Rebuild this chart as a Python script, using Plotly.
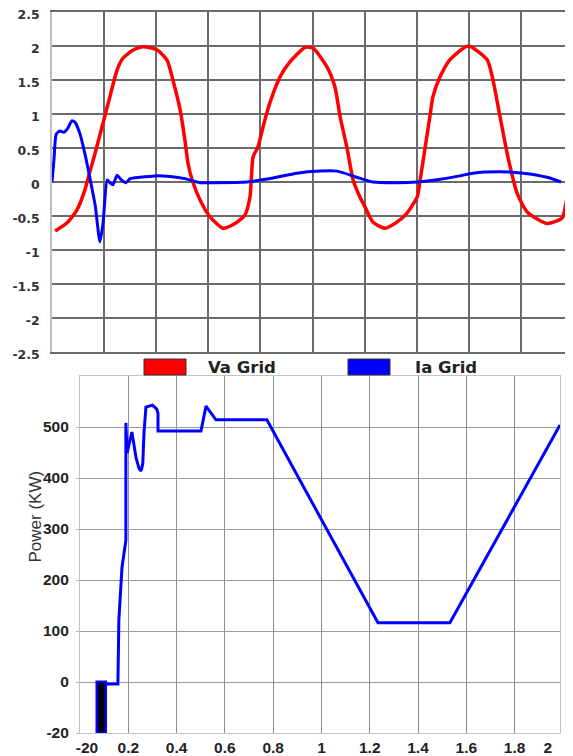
import plotly.graph_objects as go

# ---------------- data: top chart (time in grid divisions) ----------------
va_t = [0.06, 0.29, 0.48, 0.63, 0.69, 0.83, 0.98, 1.11, 1.25, 1.36,
        1.56, 1.75, 2.02, 2.21, 2.32, 2.46, 2.55, 2.61, 2.69, 2.84,
        3.03, 3.28, 3.47, 3.70, 3.80, 3.86, 3.95, 4.05, 4.18, 4.38,
        4.57, 4.86, 5.01, 5.28, 5.43, 5.53, 5.66, 5.78, 5.91, 6.01,
        6.16, 6.39, 6.62, 6.81, 7.01, 7.06, 7.26, 7.31, 7.45, 7.64,
        7.99, 8.35, 8.45, 8.60, 8.75, 8.93, 9.12, 9.50, 9.79, 9.89,
        9.98]
va_grid = [-0.72, -0.60, -0.41, -0.12, 0.05, 0.43, 0.87, 1.25, 1.65, 1.82,
           1.94, 1.99, 1.94, 1.79, 1.50, 1.06, 0.62, 0.28, 0.03, -0.26,
           -0.51, -0.68, -0.63, -0.49, -0.22, 0.37, 0.51, 0.81, 1.16, 1.55,
           1.77, 1.98, 1.97, 1.69, 1.40, 0.96, 0.51, 0.03, -0.22, -0.37,
           -0.59, -0.68, -0.59, -0.46, -0.22, 0.00, 1.00, 1.25, 1.55, 1.80,
           2.00, 1.80, 1.55, 0.96, 0.37, -0.17, -0.44, -0.61, -0.53, -0.22,
           0.00]

ia_t = [0.00, 0.04, 0.08, 0.15, 0.23, 0.31, 0.38, 0.44, 0.54, 0.63,
        0.73, 0.83, 0.92, 0.98, 1.06, 1.11, 1.17, 1.25, 1.32, 1.42,
        1.50, 1.69, 1.98, 2.27, 2.55, 2.84, 3.03, 3.74, 4.24, 4.70,
        5.14, 5.47, 5.85, 6.16, 6.62, 7.01, 7.45, 7.83, 8.08, 8.60,
        9.04, 9.50, 9.77]
ia_grid = [0.00, 0.35, 0.70, 0.75, 0.73, 0.80, 0.90, 0.88, 0.70, 0.42,
           0.05, -0.35, -0.88, -0.60, 0.03, -0.01, -0.04, 0.10, 0.04, -0.01,
           0.05, 0.07, 0.09, 0.08, 0.05, -0.01, -0.01, 0.00, 0.06, 0.13,
           0.16, 0.16, 0.07, 0.00, -0.01, 0.00, 0.04, 0.09, 0.13, 0.15,
           0.13, 0.07, 0.00]

top_yticks = [-2.5, -2, -1.5, -1, -0.5, 0, 0.5, 1, 1.5, 2, 2.5]
top_ytext = ["-2.5", "-2", "-1.5", "-1", "-0.5", "0", "0.5", "1", "1.5", "2", "2.5"]
top_xgrid = [0, 1, 2, 3, 4, 5, 6, 7, 8, 9, 10]

# ---------------- data: bottom chart ----------------
# y values are in the axis' plotting units; the lowest grid line is labelled "-20"
power_t = [0.108, 0.157, 0.161, 0.174, 0.190, 0.190, 0.195, 0.215, 0.232, 0.245,
           0.253, 0.260, 0.265, 0.273, 0.300, 0.318, 0.323, 0.323, 0.501, 0.522,
           0.563, 0.774, 1.234, 1.532, 1.988]
power_kw = [-4, -4, 122, 225, 278, 508, 449, 490, 440, 418,
            414, 428, 488, 539, 543, 535, 527, 492, 492, 541,
            514, 514, 116, 116, 504]

bar_t = [0.070, 0.108]       # black start-up block: time span
bar_kw = [0, -100]           # from 0 down to the "-20" line

bot_yticks = [-100, 0, 100, 200, 300, 400, 500]
bot_ytext = ["-20", "0", "100", "200", "300", "400", "500"]
bot_xticks = [0.029, 0.2, 0.4, 0.6, 0.8, 1.0, 1.2, 1.4, 1.6, 1.8, 1.938]
bot_xtext = ["-20", "0.2", "0.4", "0.6", "0.8", "1", "1.2", "1.4", "1.6", "1.8", "2"]
bot_xgrid = [0.2, 0.4, 0.6, 0.8, 1.0, 1.2, 1.4, 1.6, 1.8]

legend_names = ["Va Grid", "Ia Grid"]
legend_colors = ["#ff0000", "#0000ff"]

# ---------------- figure ----------------
# the page body has an 8px margin, so the figure is offset by 8px in the window
OFF = 8
W, H = 573 - OFF, 756 - OFF
fig = go.Figure()

fig.add_trace(go.Scatter(x=va_t, y=va_grid, mode="lines", name=legend_names[0],
                         line=dict(color=legend_colors[0], width=3.5, shape="spline", smoothing=0.6),
                         xaxis="x", yaxis="y", showlegend=False))
fig.add_trace(go.Scatter(x=ia_t, y=ia_grid, mode="lines", name=legend_names[1],
                         line=dict(color=legend_colors[1], width=3, shape="spline", smoothing=0.6),
                         xaxis="x", yaxis="y", showlegend=False))

fig.add_trace(go.Bar(x=[(bar_t[0] + bar_t[1]) / 2], y=[bar_kw[1] - bar_kw[0]], base=[bar_kw[0]],
                     width=[bar_t[1] - bar_t[0]],
                     marker=dict(color="black", line=dict(color="#0000ff", width=2.5)),
                     xaxis="x2", yaxis="y2", showlegend=False))
fig.add_trace(go.Scatter(x=power_t, y=power_kw, mode="lines",
                         line=dict(color="#0000ff", width=3),
                         xaxis="x2", yaxis="y2", showlegend=False))


def px(x):
    return (x - OFF) / W


def py(y):
    return 1 - (y - OFF) / H


top_font = dict(family="DejaVu Sans", size=12.5, color="#333333", weight="bold")
bot_font = dict(family="Liberation Sans, Arial", size=15.5, color="#222222", weight="bold")

fig.update_layout(
    width=W, height=H,
    margin=dict(l=0, r=0, t=0, b=0),
    paper_bgcolor="white", plot_bgcolor="white",
    showlegend=False,
    xaxis=dict(domain=[px(52), 1.0], range=[0, 10], tickvals=top_xgrid, showticklabels=False,
               showgrid=True, gridcolor="#6a6a6a", gridwidth=1.5, zeroline=False,
               showline=True, mirror=True, linecolor="#6a6a6a", linewidth=1.5,
               anchor="y", automargin=False, fixedrange=True),
    yaxis=dict(domain=[py(352), py(12)], range=[-2.5, 2.5], tickvals=top_yticks, ticktext=top_ytext,
               showgrid=True, gridcolor="#6a6a6a", gridwidth=1.5, zeroline=False,
               showline=True, linecolor="#bdbdbd", linewidth=1.5,
               tickfont=top_font, ticklabelstandoff=8, ticklabelshift=3,
               ticklabeloverflow="allow", anchor="x", automargin=False),
    xaxis2=dict(domain=[px(80), px(560)], range=[0, 1.988], tickvals=bot_xticks, ticktext=bot_xtext,
                showgrid=False, zeroline=False, showline=True, mirror=True,
                linecolor="#c4c4c4", linewidth=1.2, tickfont=bot_font, ticklabelstandoff=0,
                ticklabeloverflow="allow",
                minor=dict(tickvals=bot_xgrid, showgrid=True, gridcolor="#8f8f8f", gridwidth=1.3),
                anchor="y2", automargin=False),
    yaxis2=dict(domain=[py(733), py(376)], range=[-100, 600], tickvals=bot_yticks, ticktext=bot_ytext,
                showgrid=True, gridcolor="#9a9a9a", gridwidth=1.3, zeroline=False,
                showline=True, mirror=True, linecolor="#c4c4c4", linewidth=1.2,
                ticks="outside", ticklen=3, tickcolor="#b0b0b0",
                tickfont=bot_font, ticklabelstandoff=4, ticklabeloverflow="allow",
                anchor="x2", automargin=False),
    bargap=0,
)

# custom legend between the two charts
leg_boxes = [(144, 186), (348, 390)]
leg_text_x = [206, 413]
for (x0, x1), tx, name, col in zip(leg_boxes, leg_text_x, legend_names, legend_colors):
    fig.add_shape(type="rect", xref="paper", yref="paper",
                  x0=px(x0), x1=px(x1), y0=py(375), y1=py(359),
                  fillcolor=col, line=dict(color="#333333", width=1))
    fig.add_annotation(x=px(tx), y=py(367), xref="paper", yref="paper",
                       xanchor="left", yanchor="middle", showarrow=False, text=name,
                       font=dict(family="DejaVu Sans", size=16.5, color="#222222", weight="bold"))

fig.add_annotation(x=px(23), y=py(565), xref="paper", yref="paper", textangle=-90,
                   showarrow=False, text="Power (KW)",
                   font=dict(family="Liberation Sans, Arial", size=17, color="#333333"))

fig.write_html("out.html")
